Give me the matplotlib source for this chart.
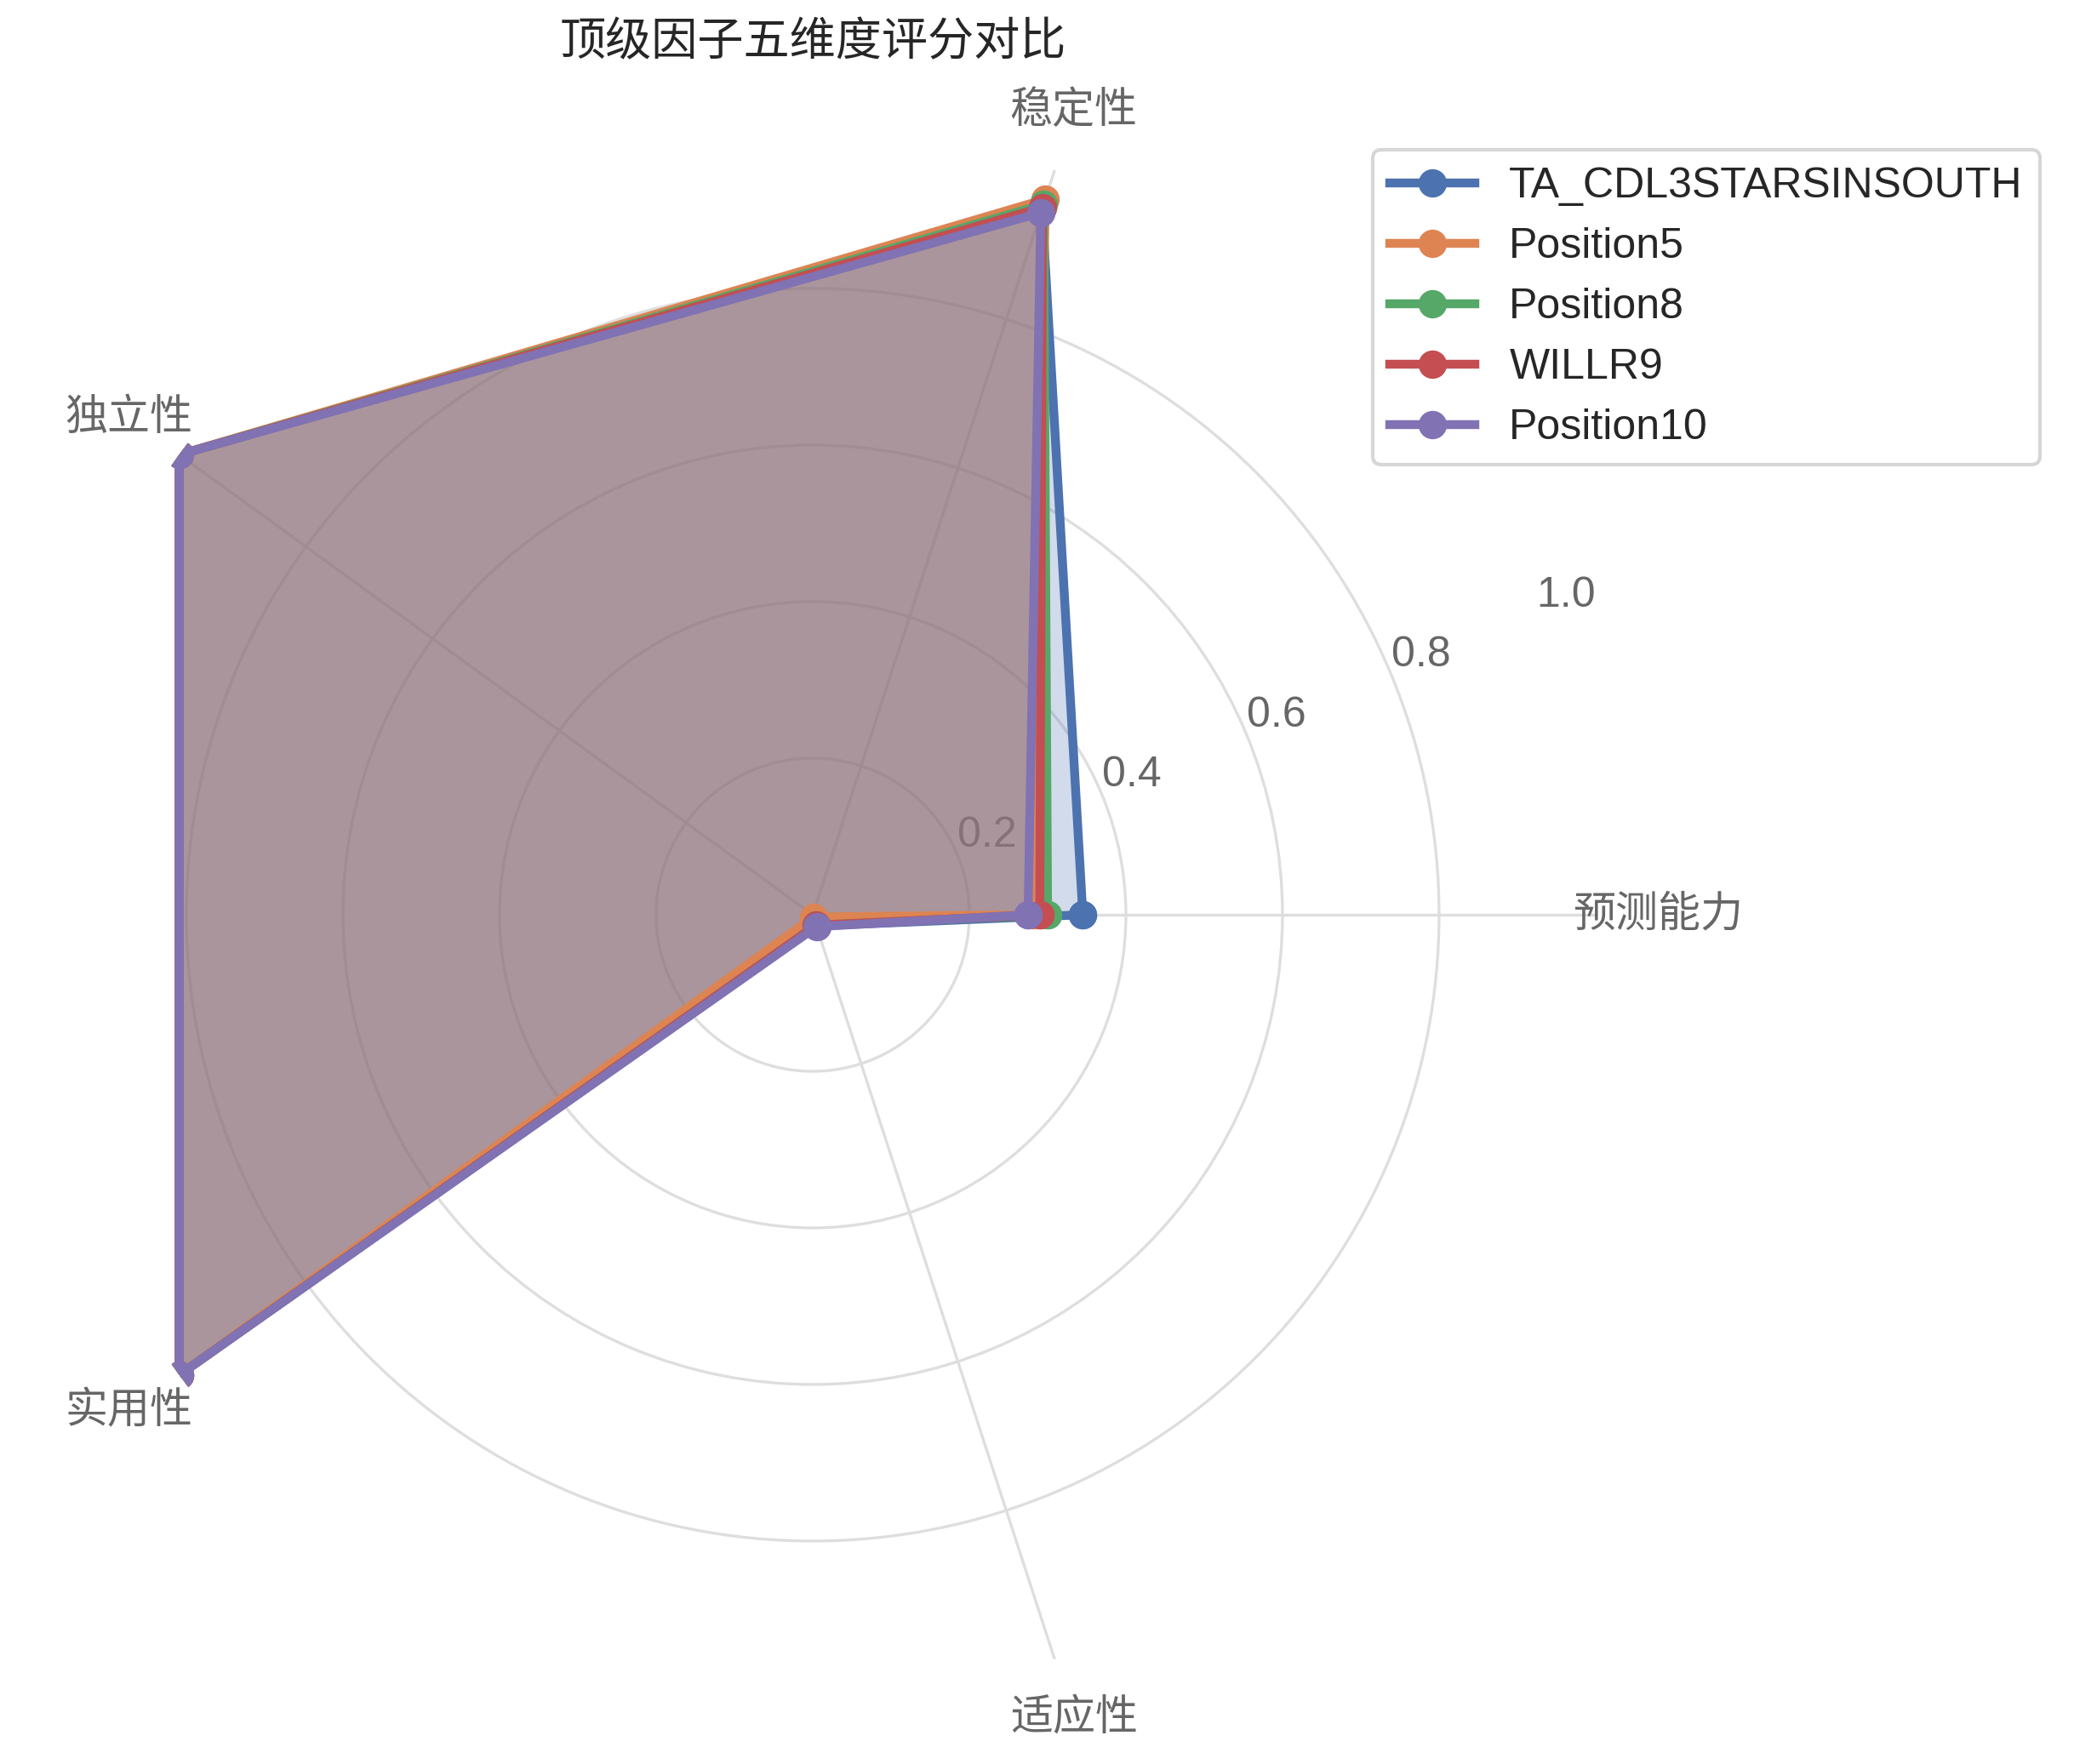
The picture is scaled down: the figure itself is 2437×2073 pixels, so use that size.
import numpy as np
import matplotlib
matplotlib.use('Agg')
import matplotlib.pyplot as plt

plt.rcParams['font.family'] = ['Liberation Sans', 'Noto Sans CJK SC', 'DejaVu Sans']
plt.rcParams['axes.unicode_minus'] = False

# data
dims = ['预测能力', '稳定性', '独立性', '实用性', '适应性']
factor_names = ['TA_CDL3STARSINSOUTH', 'Position5', 'Position8', 'WILLR9', 'Position10']
ta_cdl3 = [0.345, 0.948, 1.0, 1.0, 0.015]
position5 = [0.282, 0.961, 1.0, 1.0, 0.003]
position8 = [0.300, 0.954, 1.0, 1.0, 0.014]
willr9 = [0.290, 0.950, 1.0, 1.0, 0.014]
position10 = [0.275, 0.943, 1.0, 1.0, 0.016]
r_ticks = [0.2, 0.4, 0.6, 0.8, 1.0]

colors = ['#4C72B0', '#DD8452', '#55A868', '#C44E52', '#8172B3']
all_scores = [ta_cdl3, position5, position8, willr9, position10]

angles = np.linspace(0, 2 * np.pi, len(dims), endpoint=False).tolist()
angles += angles[:1]

fig = plt.figure(figsize=(2437 / 300, 2073 / 300), dpi=300)
ax = fig.add_axes([0.01436, 0.03763, 0.7550, 0.8876], polar=True)
ax.set_axisbelow(True)

for name, vals, c in zip(factor_names, all_scores, colors):
    v = list(vals) + vals[:1]
    ax.plot(angles, v, 'o-', color=c, linewidth=2.5, markersize=7,
            label=name, solid_joinstyle='miter')
    ax.fill(angles, v, color=c, alpha=0.25)

ax.set_xticks(angles[:-1])
ax.set_xticklabels(dims, fontsize=12, color='#666666')
ax.set_ylim(0, 1.0)
ax.set_yticks(r_ticks)
ax.set_yticklabels([f'{t:.1f}' for t in r_ticks], fontsize=12, color='#666666')
ax.tick_params(axis='x', pad=7)
ax.grid(True, color='#dedede', linewidth=0.8)
ax.yaxis.get_gridlines()[-1].set_visible(False)
ax.spines['polar'].set_visible(False)
ax.set_facecolor('white')

ax.set_title('顶级因子五维度评分对比', fontsize=13, color='#262626', y=1.035)

leg = ax.legend(loc='upper left', bbox_to_anchor=(0.662, 0.915),
                bbox_transform=fig.transFigure, borderaxespad=0,
                fontsize=12, frameon=True, fancybox=True)
leg.get_frame().set_edgecolor('#cccccc')
for t in leg.get_texts():
    t.set_color('#262626')

fig.savefig('out.png', dpi=300)
